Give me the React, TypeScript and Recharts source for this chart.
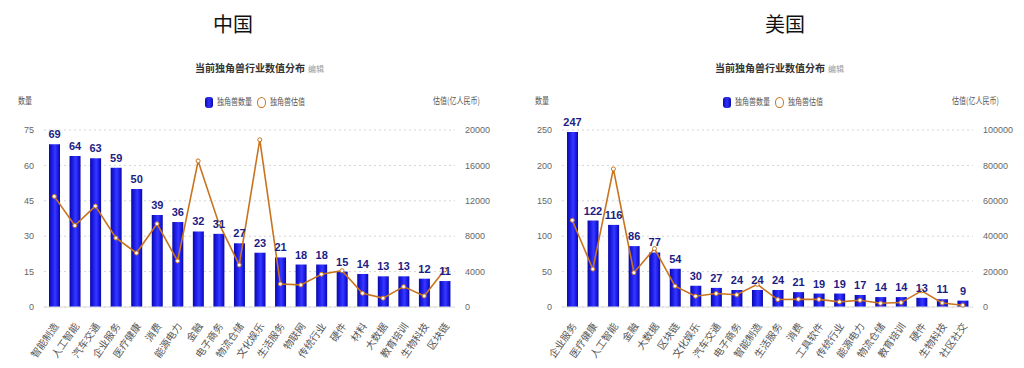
import React from "react";
import { Bar, CartesianGrid, ComposedChart, LabelList, Line, XAxis, YAxis } from "recharts";

const chinaCategories = [
  "智能制造", "人工智能", "汽车交通", "企业服务", "医疗健康", "消费", "能源电力", "金融", "电子商务", "物流仓储",
  "文化娱乐", "生活服务", "物联网", "传统行业", "硬件", "材料", "大数据", "教育培训", "生物科技", "区块链",
];
const chinaCounts = [69, 64, 63, 59, 50, 39, 36, 32, 31, 27, 23, 21, 18, 18, 15, 14, 13, 13, 12, 11];
const chinaValuations = [12500, 9200, 11400, 7800, 6100, 9400, 5200, 16500, 9500, 4750, 18900, 2600, 2500, 3700, 4100, 1550, 1000, 2300, 1250, 4200];
const chinaCountTicks = [0, 15, 30, 45, 60, 75];
const chinaValueTicks = [0, 4000, 8000, 12000, 16000, 20000];

const usCategories = [
  "企业服务", "医疗健康", "人工智能", "金融", "大数据", "区块链", "文化娱乐", "汽车交通", "电子商务", "智能制造",
  "生活服务", "消费", "工具软件", "传统行业", "能源电力", "物流仓储", "教育培训", "硬件", "生物科技", "社区社交",
];
const usCounts = [247, 122, 116, 86, 77, 54, 30, 27, 24, 24, 24, 21, 19, 19, 17, 14, 14, 13, 11, 9];
const usValuations = [49000, 21400, 78000, 19400, 33000, 11800, 6100, 7600, 6900, 12800, 4200, 4400, 4300, 2900, 3800, 2100, 2500, 9100, 2300, 1000];
const usCountTicks = [0, 50, 100, 150, 200, 250];
const usValueTicks = [0, 20000, 40000, 60000, 80000, 100000];

const CJK = '"Noto Sans CJK SC", "Noto Sans", sans-serif';
const NUM = '"Liberation Sans Narrow", "Liberation Sans", sans-serif';
const LINE_COLOR = "#c8741f";
const LABEL_COLOR = "#1c1c84";

function AngledTick(props: any) {
  const { x, y, payload } = props;
  return (
    <g transform={`translate(${x + 5},${y + 11})`}>
      <text textAnchor="end" transform="rotate(-55)" fontSize={10} fill="#555" fontFamily={CJK}>
        {payload.value}
      </text>
    </g>
  );
}

interface PanelProps {
  id: string;
  offset: number;
  title: string;
  titleX: number;
  subX: number;
  legendX: number;
  countLabelX: number;
  valueLabelX: number;
  categories: string[];
  counts: number[];
  valuations: number[];
  countTicks: number[];
  valueTicks: number[];
  leftWidth: number;
  rightWidth: number;
}

const small: React.CSSProperties = {
  position: "absolute",
  fontFamily: CJK,
  fontSize: 9,
  lineHeight: "12px",
  color: "#555",
  whiteSpace: "nowrap",
  transform: "scaleX(0.78)",
  transformOrigin: "left center",
}

function Panel(p: PanelProps) {
  const data = p.categories.map((name, i) => ({ name, count: p.counts[i], value: p.valuations[i] }))
  const gid = `bar-${p.id}`
  return (
    <div style={{ position: "absolute", left: p.offset, top: 0, width: 512, height: 368 }}>
      <div style={{ position: "absolute", left: p.titleX, top: 13, transform: "translateX(-50%)", fontFamily: CJK, fontSize: 20, lineHeight: "22px", color: "#111" }}>
        {p.title}
      </div>
      <div style={{ position: "absolute", left: p.subX, top: 62, fontFamily: CJK, fontSize: 10, fontWeight: 700, lineHeight: "12px", color: "#333", whiteSpace: "nowrap" }}>
        当前独角兽行业数值分布
        <span style={{ fontWeight: 400, fontSize: 8, color: "#999", marginLeft: 3 }}>编辑</span>
      </div>
      <div style={{ position: "absolute", left: p.legendX, top: 96, height: 12, display: "flex", alignItems: "center" }}>
        <span style={{ width: 8, height: 11, borderRadius: 3, background: "linear-gradient(90deg,#0a0aa8,#3030ff,#0a0aa8)" }} />
        <span style={{ ...small, position: "relative", marginLeft: 4, width: 36 }}>独角兽数量</span>
        <span style={{ width: 7, height: 9, borderRadius: "50%", border: `1.3px solid ${LINE_COLOR}`, marginLeft: 4, background: "#fff" }} />
        <span style={{ ...small, position: "relative", marginLeft: 4, width: 36 }}>独角兽估值</span>
      </div>
      <div style={{ ...small, left: p.countLabelX, top: 95 }}>数量</div>
      <div style={{ ...small, left: p.valueLabelX, top: 95 }}>估值(亿人民币)</div>
      <ComposedChart width={512} height={368} data={data} margin={{ top: 130, right: 0, left: 0, bottom: 0 }}>
        <defs>
          <linearGradient id={gid} x1="0" y1="0" x2="1" y2="0">
            <stop offset="0%" stopColor="#0808a6" />
            <stop offset="35%" stopColor="#2222f2" />
            <stop offset="55%" stopColor="#3838ff" />
            <stop offset="75%" stopColor="#2020ee" />
            <stop offset="100%" stopColor="#0808a6" />
          </linearGradient>
        </defs>
        <CartesianGrid yAxisId="left" vertical={false} stroke="#d4d4d4" strokeDasharray="2 3" />
        <XAxis
          dataKey="name"
          interval={0}
          height={61}
          tick={<AngledTick />}
          tickLine={false}
          axisLine={{ stroke: "#dcdcdc" }}
        />
        <YAxis
          yAxisId="left"
          width={p.leftWidth}
          domain={[p.countTicks[0], p.countTicks[p.countTicks.length - 1]]}
          ticks={p.countTicks}
          tickLine={false}
          axisLine={false}
          tickSize={0}
          tickMargin={10}
          tick={{ fontSize: 9, fill: "#666", fontFamily: NUM }}
        />
        <YAxis
          yAxisId="right"
          orientation="right"
          width={p.rightWidth}
          domain={[p.valueTicks[0], p.valueTicks[p.valueTicks.length - 1]]}
          ticks={p.valueTicks}
          tickLine={false}
          axisLine={false}
          tickSize={0}
          tickMargin={10}
          tick={{ fontSize: 9, fill: "#666", fontFamily: NUM }}
        />
        <Bar yAxisId="left" dataKey="count" barSize={11} fill={`url(#${gid})`} isAnimationActive={false}>
          <LabelList dataKey="count" position="top" offset={6} fill={LABEL_COLOR} fontSize={11} fontWeight={700} fontFamily={NUM} />
        </Bar>
        <Line
          yAxisId="right"
          type="linear"
          dataKey="value"
          stroke={LINE_COLOR}
          strokeWidth={1.6}
          dot={{ r: 2, fill: "#fff", stroke: LINE_COLOR, strokeWidth: 1 }}
          isAnimationActive={false}
        />
      </ComposedChart>
    </div>
  )
}

export default function App() {
  return (
    <div style={{ position: "absolute", left: 0, top: 0, width: 1024, height: 368, background: "#fff", overflow: "hidden" }}>
      <Panel
        id="cn"
        offset={0}
        title="中国"
        titleX={233}
        subX={195}
        legendX={205}
        countLabelX={18}
        valueLabelX={433}
        categories={chinaCategories}
        counts={chinaCounts}
        valuations={chinaValuations}
        countTicks={chinaCountTicks}
        valueTicks={chinaValueTicks}
        leftWidth={44}
        rightWidth={57}
      />
      <Panel
        id="us"
        offset={512}
        title="美国"
        titleX={273}
        subX={203}
        legendX={211}
        countLabelX={23}
        valueLabelX={440}
        categories={usCategories}
        counts={usCounts}
        valuations={usValuations}
        countTicks={usCountTicks}
        valueTicks={usValueTicks}
        leftWidth={50}
        rightWidth={51}
      />
    </div>
  )
}
